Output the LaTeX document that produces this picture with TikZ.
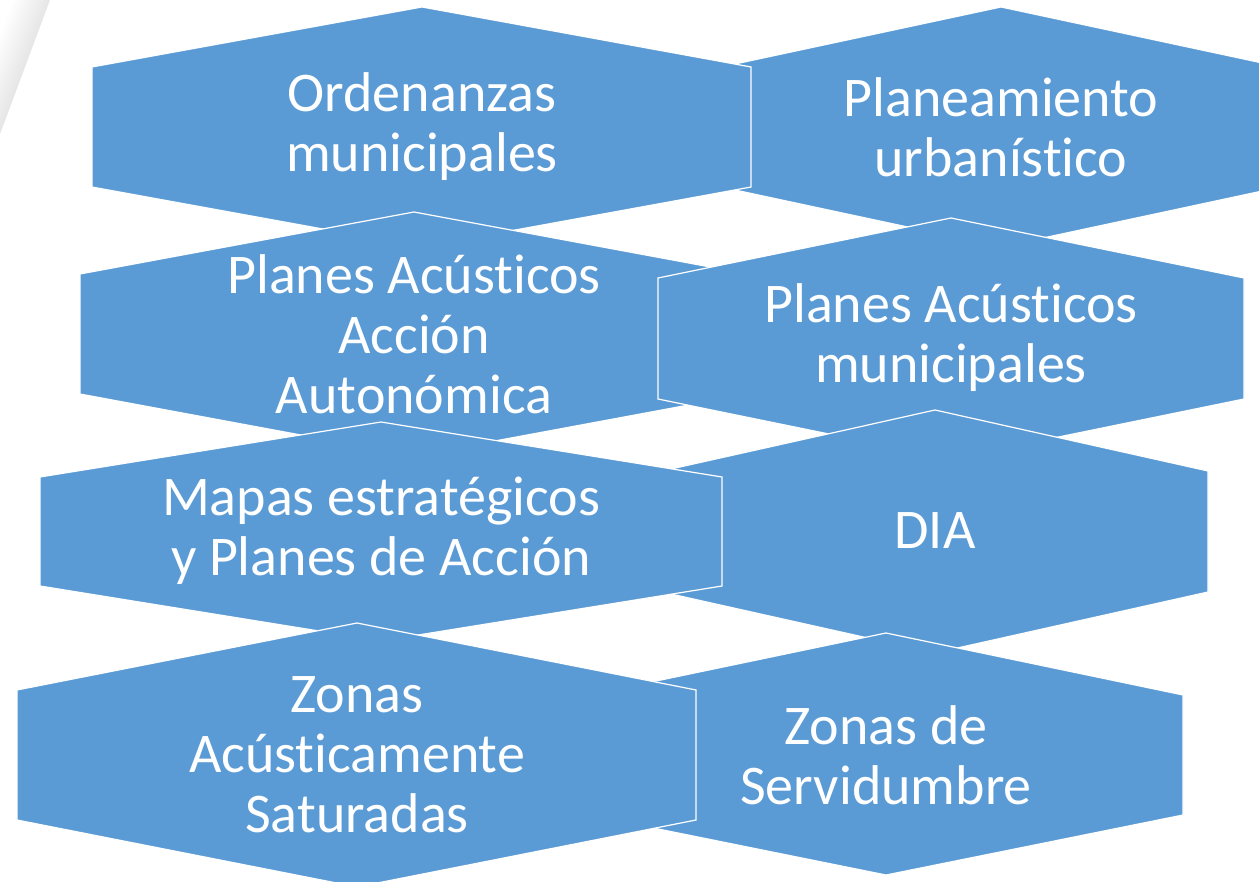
\documentclass[tikz,border=0pt]{standalone}
\usepackage{fontspec}
\setmainfont{Carlito}[Ligatures=NoCommon,RawFeature=-calt]
\definecolor{hexblue}{HTML}{5B9BD5}

\begin{document}
\begin{tikzpicture}[x=1pt,y=-1pt,
hexa/.style={fill=hexblue,draw=white,line width=1.2pt},
txt/.style={text=white,align=center,font=\fontsize{56}{60}\selectfont}]
\useasboundingbox (0,0) rectangle (1259,882);
\clip (0,0) rectangle (1259,882);
\shade[left color=white,right color=black!20,shading angle=69] (0,0) -- (50,0) -- (0,134) -- cycle;
\filldraw[hexa] (1001,7) -- (1281,67) -- (1281,187) -- (1001,247) -- (721,187) -- (721,67) -- cycle;
\node[txt] (plan) at (1001,127) {Planeamiento\\urbanístico};
\filldraw[hexa] (422,7) -- (751,67) -- (751,187) -- (422,247) -- (92,187) -- (92,67) -- cycle;
\node[txt] (ord) at (422,127) {Ordenanzas\\municipales};
\filldraw[hexa] (414,212) -- (748,274) -- (748,394) -- (414,456) -- (80,394) -- (80,274) -- cycle;
\node[txt] (paa) at (414,334) {Planes Acústicos\\Acción\\Autonómica};
\filldraw[hexa] (951,218) -- (1244,278) -- (1244,399) -- (951,459) -- (658,399) -- (658,278) -- cycle;
\node[txt] (pam) at (951,338) {Planes Acústicos\\municipales};
\filldraw[hexa] (935,410) -- (1208,471) -- (1208,592) -- (935,653) -- (662,592) -- (662,471) -- cycle;
\node[txt] (dia) at (935,531) {DIA};
\filldraw[hexa] (381,422) -- (722,477) -- (722,586) -- (381,641) -- (40,586) -- (40,477) -- cycle;
\node[txt] (mapas) at (381,531) {Mapas estratégicos\\y Planes de Acción};
\filldraw[hexa] (886,633) -- (1183,695) -- (1183,815) -- (886,875) -- (589,815) -- (589,695) -- cycle;
\node[txt] (serv) at (886,755) {Zonas de\\Servidumbre};
\filldraw[hexa] (357,623) -- (696,690) -- (696,820) -- (357,887) -- (17,820) -- (17,690) -- cycle;
\node[txt] (zas) at (357,755) {Zonas\\Acústicamente\\Saturadas};
\end{tikzpicture}
\end{document}
